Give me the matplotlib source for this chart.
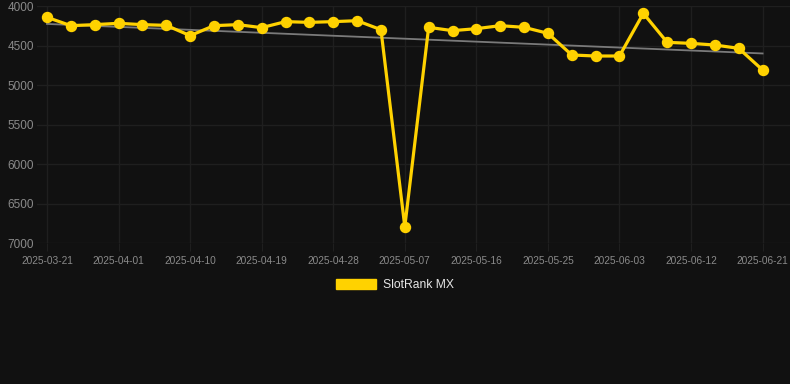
import numpy as np
from matplotlib import pyplot as plt
from matplotlib.patches import Patch

# rank values, one point about every three days (lower rank = higher on chart)
ranks = [4143, 4249, 4236, 4219, 4236, 4245, 4375, 4249, 4236, 4274,
         4198, 4207, 4198, 4186, 4300, 6794, 4270, 4312, 4287, 4249,
         4270, 4346, 4620, 4633, 4633, 4093, 4460, 4473, 4494, 4536,
         4810]
tick_labels = ['2025-03-21', '2025-04-01', '2025-04-10', '2025-04-19',
               '2025-04-28', '2025-05-07', '2025-05-16', '2025-05-25',
               '2025-06-03', '2025-06-12', '2025-06-21']
y_ticks = [4000, 4500, 5000, 5500, 6000, 6500, 7000]
series_name = 'SlotRank MX'

bg = '#111111'
grid_c = '#1f1f1f'
text_c = '#8a8a8a'
gold = '#FFD200'

plt.rcParams['font.family'] = ['Liberation Sans', 'DejaVu Sans']

x = np.arange(len(ranks))

fig = plt.figure(dpi=100, figsize=(7.9, 3.84), facecolor=bg)
ax = fig.add_axes([37 / 790, 1 - 243 / 384, 1 - 37 / 790, 237 / 384])
ax.set_facecolor(bg)

# linear trend through the points
k, b = np.polyfit(x, ranks, 1)
ax.plot(x, k * x + b, color='#7a7a7a', lw=1.3, zorder=2)

ax.plot(x, ranks, color=gold, lw=2.3, marker='o', markersize=7.2,
        solid_joinstyle='miter', zorder=3, clip_on=False)

ax.set_ylim(7000, 4000)
ax.set_yticks(y_ticks)
ax.set_xlim(-10 / 23.85, 30 + 27.4 / 23.85)
ax.set_xticks(x[::3])
ax.set_xticklabels(tick_labels)

ax.grid(True, color=grid_c, lw=1)
ax.set_axisbelow(True)
for s in ax.spines.values():
    s.set_visible(False)
ax.tick_params(axis='y', length=0, pad=2, labelsize=8.5, colors=text_c)
ax.tick_params(axis='x', length=6, color=grid_c, pad=3, labelsize=7.3,
               colors=text_c)

fig.legend(handles=[Patch(color=gold, label=series_name)], loc='center',
           bbox_to_anchor=(0.5, 1 - 285 / 384), frameon=False,
           fontsize=8.7, labelcolor='#e6e6e6', handlelength=3.3,
           handleheight=0.9, handletextpad=0.55)

plt.savefig('out.png', dpi=100, facecolor=bg)
